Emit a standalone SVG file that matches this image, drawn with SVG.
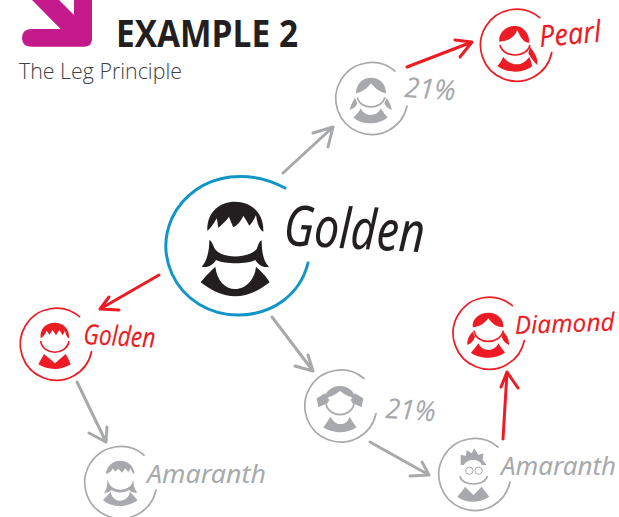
<svg xmlns="http://www.w3.org/2000/svg" width="619" height="517" viewBox="0 0 619 517">
<style>
.g{fill:#a7a9ac;color:#a7a9ac}.r{fill:#ed1c24;color:#ed1c24}.k{fill:#231f20;color:#231f20}
.ring{fill:none;stroke:currentColor;stroke-width:1.7;stroke-linecap:round}
.chin{fill:none;stroke:currentColor;stroke-width:5}
.hand{font-family:"Noto Sans",sans-serif;font-style:italic;font-weight:400}
.con path{fill:none;stroke-linecap:round;stroke-linejoin:round}
.cg{stroke:#a7a9ac;stroke-width:3}.cr{stroke:#ed1c24;stroke-width:3}
</style>
<defs>
<path id="ring" class="ring" d="M24,-27A36,36 0 1 0 36,8"/>
</defs>

<g id="header">
<path fill="#c4198b" d="M32,0L60.700,29L32,29Q22,29 22,38Q22,46.700 32,46.700L84,46.700Q92,46.700 92,39L92,0L74,0L74,15L59,0Z"/>
<text x="116" y="46.500" font-family="'Open Sans',sans-serif" font-weight="700" font-size="37" fill="#231f20" textLength="182" lengthAdjust="spacingAndGlyphs">EXAMPLE 2</text>
<text x="19" y="79" font-family="'Open Sans',sans-serif" font-weight="300" font-size="22" fill="#414042" textLength="163" lengthAdjust="spacingAndGlyphs">The Leg Principle</text>
</g>

<g id="connectors" class="con">
<path class="cg" d="M283,173L333,127M313,133L333,127L328,147"/>
<path class="cr" d="M407,67L472,42M455,40L472,42L460,57"/>
<path class="cr" d="M159,275L100,309M109,297L100,309L119,310"/>
<path class="cg" d="M77,382L106,442M89,433L106,442L107,427"/>
<path class="cg" d="M272,317L313,371M295,366L313,371L308,355"/>
<path class="cg" d="M370,442L429,475M410,476L429,475L422,462"/>
<path class="cr" d="M503,439L507,372M501,387L507,372L518,388"/>
</g>

<g id="node-golden-main" class="k">
<path d="M285,188C268,179 248,175 230,177C205,180 183,195 172,218C164,236 164,256 172,274C184,300 210,315 238,315C272,315 300,295 308,263" fill="none" stroke="#1195c8" stroke-width="3" stroke-linecap="round"/>
<g transform="translate(150,165) scale(.33333)">
<path d="M172,198C170,140 210,110 255,110C300,110 342,140 340,200C330,195 322,180 318,150C312,165 305,175 298,182C292,170 285,160 280,152C272,170 262,180 250,187C245,175 240,165 237,155C228,168 215,180 205,188C203,180 203,170 200,160C192,175 182,190 172,198Z"/>
<path d="M178,226C185,226 188,240 195,252C215,282 295,282 320,252C325,240 328,228 335,226C335,260 340,290 357,305C340,310 325,300 316,285C290,298 225,298 198,285C190,300 172,310 155,305C170,290 178,260 178,226Z"/>
<path d="M152,352C165,335 185,315 196,305C200,345 225,372 255,372C290,372 315,340 318,305C330,315 350,335 359,352C325,378 290,394 255,394C220,394 185,378 152,352Z"/>
</g>
<text class="hand" transform="translate(283,245) rotate(3)" font-size="56" textLength="141" lengthAdjust="spacingAndGlyphs">Golden</text>
</g>

<g id="node-21-top" class="g">
<use href="#ring" x="371" y="98"/>
<g transform="translate(320,0) scale(.33333)">
<path d="M108,280C108,250 130,233 153,233C178,233 198,250 198,280C180,278 165,265 153,250C142,265 125,278 108,280Z"/>
<path class="chin" d="M112,292C120,330 185,330 195,292"/>
<path d="M105,293C98,305 90,318 90,330C100,325 108,320 112,310Z"/>
<path d="M200,293C207,305 215,318 215,330C205,325 197,320 193,310Z"/>
<path d="M100,352C110,345 118,335 122,325C130,340 140,345 152,345C165,345 175,340 183,325C188,335 195,345 203,352C190,365 170,370 152,370C130,370 112,365 100,352Z"/>
</g>
<text class="hand" transform="translate(404,97) rotate(4)" font-size="28" textLength="51" lengthAdjust="spacingAndGlyphs">21%</text>
</g>

<g id="node-pearl" class="r">
<use href="#ring" x="515.700" y="44.700"/>
<g transform="translate(320,0) scale(.33333)">
<path d="M538,125C535,100 555,78 585,78C610,78 628,100 628,128C610,128 600,110 592,90C585,110 565,125 538,125Z"/>
<path class="chin" d="M540,135C550,175 620,175 630,135"/>
<path d="M630,140C640,155 655,170 652,195C640,185 630,170 625,160Z"/>
<path d="M532,198C540,190 545,180 550,170C560,185 575,193 590,193C605,193 618,185 628,170C633,185 638,195 635,200C620,210 600,215 585,215C565,215 545,208 532,198Z"/>
</g>
<text class="hand" transform="translate(540,47) rotate(-5)" font-size="30" textLength="62" lengthAdjust="spacingAndGlyphs">Pearl</text>
</g>

<g id="node-golden-red" class="r">
<use href="#ring" x="55.500" y="343.700"/>
<g transform="translate(0,270) scale(.33333)">
<path d="M122,205C118,175 140,158 165,158C190,158 210,178 207,205C200,200 198,195 195,182L188,196L178,180L168,196L158,180L148,194L140,182C136,192 130,200 122,205Z"/>
<path class="chin" d="M122,213C128,258 200,258 207,213"/>
<path d="M115,283C122,270 128,260 132,252L165,280L197,252C203,262 208,272 212,283C195,293 180,297 165,297C145,297 130,292 115,283Z"/>
</g>
<text class="hand" transform="translate(83,344) rotate(3)" font-size="28" textLength="72" lengthAdjust="spacingAndGlyphs">Golden</text>
</g>

<g id="node-amaranth-left" class="g">
<use href="#ring" x="120" y="482"/>
<g transform="translate(0,270) scale(.33333)">
<path d="M318,612C318,590 338,572 360,572C385,572 403,590 403,612C398,610 394,605 392,595L385,607L376,595L366,608L355,596L345,605L338,595C335,605 326,610 318,612Z"/>
<path d="M322,630C325,635 328,645 335,650C350,662 372,662 388,650C395,645 398,635 400,630C400,645 405,660 412,668C400,670 392,665 388,660C370,670 350,670 335,660C330,665 320,670 312,668C320,660 322,645 322,630Z"/>
<path d="M309,690C318,680 328,672 332,665C335,685 350,692 360,692C375,692 388,680 390,665C397,672 405,682 413,690C398,702 375,708 360,708C340,708 322,702 309,690Z"/>
</g>
<text class="hand" x="147" y="483" font-size="25" textLength="119" lengthAdjust="spacingAndGlyphs">Amaranth</text>
</g>

<g id="node-21-bottom" class="g">
<use href="#ring" x="340" y="405.500"/>
<g transform="translate(290,290) scale(.33333)">
<path d="M105,325C105,305 125,288 150,288C175,288 195,305 195,325C180,322 165,315 150,303C135,315 120,322 105,325Z"/>
<path d="M80,325L105,310L118,330L112,340L85,352Z"/>
<path d="M220,325L195,310L182,330L188,340L215,352Z"/>
<path class="chin" d="M108,340C115,385 185,385 192,340"/>
<path d="M100,412C108,402 115,390 122,380C130,395 140,402 150,402C165,402 175,395 178,380C185,390 192,402 200,412C185,422 165,427 150,427C130,427 112,420 100,412Z"/>
</g>
<text class="hand" transform="translate(385,418) rotate(4)" font-size="28" textLength="50" lengthAdjust="spacingAndGlyphs">21%</text>
</g>

<g id="node-amaranth-right" class="g">
<use href="#ring" x="474" y="474"/>
<g transform="translate(290,290) scale(.33333)">
<path d="M512,525L512,495L528,497L530,480L545,490L553,475L565,495L580,490L578,510L590,525L575,525C570,505 530,505 522,525Z"/>
<circle cx="538" cy="542" r="11" fill="none" stroke="currentColor" stroke-width="3"/>
<circle cx="566" cy="542" r="11" fill="none" stroke="currentColor" stroke-width="3"/>
<path class="chin" d="M510,558C515,590 585,590 592,558"/>
<path d="M502,620C510,610 520,600 525,590L550,615L575,590C582,600 590,610 598,620C582,630 565,635 550,635C530,635 515,630 502,620Z"/>
</g>
<text class="hand" x="501" y="475" font-size="25" textLength="115" lengthAdjust="spacingAndGlyphs">Amaranth</text>
</g>

<g id="node-diamond" class="r">
<use href="#ring" x="488.300" y="332.700"/>
<g transform="translate(290,290) scale(.33333)">
<path d="M548,112C545,85 570,68 595,68C620,68 642,85 640,112C620,112 605,100 595,85C585,100 565,112 548,112Z"/>
<path class="chin" d="M552,122C558,165 630,165 640,122"/>
<path d="M548,125C538,135 530,150 532,165C545,160 552,150 555,140Z"/>
<path d="M640,125C650,135 658,150 657,165C645,160 638,150 635,140Z"/>
<path d="M543,188C550,180 558,170 565,160C572,175 585,180 595,180C610,180 620,172 625,160C630,170 640,180 645,188C630,198 610,203 595,203C575,203 555,198 543,188Z"/>
</g>
<text class="hand" transform="translate(515,334) rotate(-2)" font-size="25" textLength="100" lengthAdjust="spacingAndGlyphs">Diamond</text>
</g>
</svg>
